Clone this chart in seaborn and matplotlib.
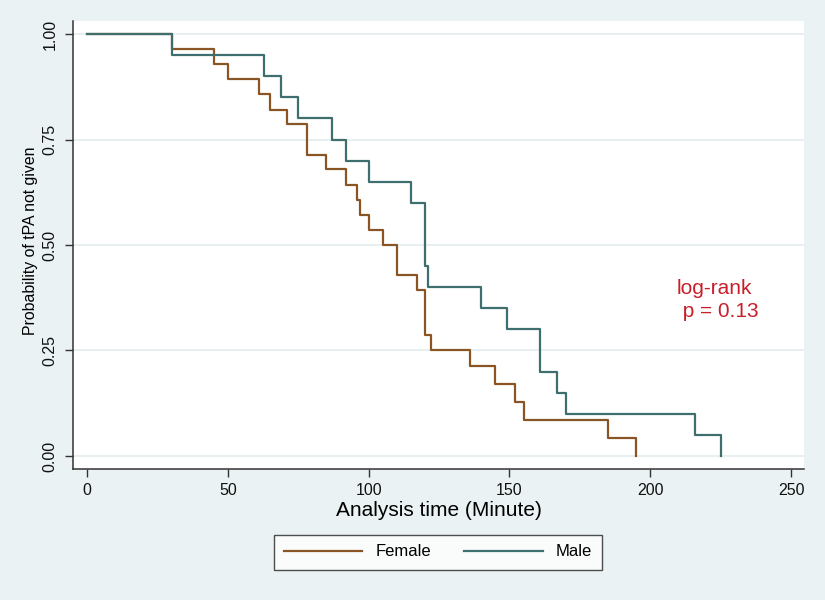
import numpy as np
import pandas as pd
import seaborn as sns
import matplotlib.pyplot as plt

# Kaplan-Meier step estimates
female_time = [0, 30, 45, 50, 61, 65, 71, 78, 85, 92, 96, 97, 100, 105, 110,
               117, 120, 122, 136, 145, 152, 155, 185, 195]
female_surv = [1.0, 0.964, 0.929, 0.893, 0.857, 0.821, 0.786, 0.714, 0.679,
               0.643, 0.607, 0.571, 0.536, 0.500, 0.429, 0.393, 0.286, 0.250,
               0.214, 0.171, 0.129, 0.086, 0.043, 0.0]

male_time = [0, 30, 63, 69, 75, 87, 92, 100, 115, 120, 121, 140, 149, 161,
             167, 170, 216, 225]
male_surv = [1.0, 0.95, 0.90, 0.85, 0.80, 0.75, 0.70, 0.65, 0.60, 0.45, 0.40,
             0.35, 0.30, 0.20, 0.15, 0.10, 0.05, 0.0]

groups = ["Female", "Male"]
colors = {"Female": "#8a5524", "Male": "#3f6e6e"}
yticks = [0, 0.25, 0.5, 0.75, 1.0]
xticks = [0, 50, 100, 150, 200, 250]

df = pd.concat([
    pd.DataFrame({"time": female_time, "surv": female_surv, "sex": "Female"}),
    pd.DataFrame({"time": male_time, "surv": male_surv, "sex": "Male"}),
])

bg = "#eaf2f3"
plt.rcParams["font.family"] = ["Liberation Sans", "DejaVu Sans"]

fig = plt.figure(figsize=(8.25, 6), dpi=100, facecolor=bg)
ax = fig.add_axes([0.0885, 0.2183, 0.886, 0.7467])
ax.set_facecolor("white")

for g in groups:
    sub = df[df["sex"] == g]
    sns.lineplot(data=sub, x="time", y="surv", ax=ax, color=colors[g],
                 drawstyle="steps-post", estimator=None, sort=False,
                 linewidth=1.6, label=g, legend=False)

ax.set_xlim(-5, 254.6)
ax.set_ylim(-0.031, 1.031)
ax.set_xticks(xticks)
ax.set_yticks(yticks)
ax.set_yticklabels([f"{v:.2f}" for v in yticks], rotation=90, va="center")
ax.tick_params(axis="both", direction="out", length=6, width=1,
               color="#333333", labelsize=11.5, labelcolor="#111111")
ax.tick_params(axis="x", pad=4)
ax.tick_params(axis="y", pad=5)
ax.grid(axis="y", color="#e6eef0", linewidth=1.3)
ax.grid(axis="x", visible=False)
ax.set_axisbelow(True)

for side in ["top", "right"]:
    ax.spines[side].set_visible(False)
for side in ["left", "bottom"]:
    ax.spines[side].set_color("#333333")
    ax.spines[side].set_linewidth(1.1)

ax.set_xlabel("Analysis time (Minute)", fontsize=15)
ax.xaxis.set_label_coords(0.5, -0.0714)
ax.set_ylabel("Probability of tPA not given", fontsize=11.4, va="center")
ax.yaxis.set_label_coords(-0.0575, 0.51)

ax.text(209.5, 0.37, "log-rank\n p = 0.13", color="#c8202a", fontsize=15,
        ha="left", va="center", linespacing=1.25)

handles, labels = ax.get_legend_handles_labels()
leg = fig.legend(handles, labels, loc="center", bbox_to_anchor=(0.531, 0.08),
                 ncol=2, frameon=True, fancybox=False, edgecolor="#222222",
                 fontsize=12, handlelength=4.7, handletextpad=0.78,
                 columnspacing=2.0, borderpad=0.6)
leg.get_frame().set_linewidth(1.0)

fig.savefig("out.png", dpi=100, facecolor=bg)
